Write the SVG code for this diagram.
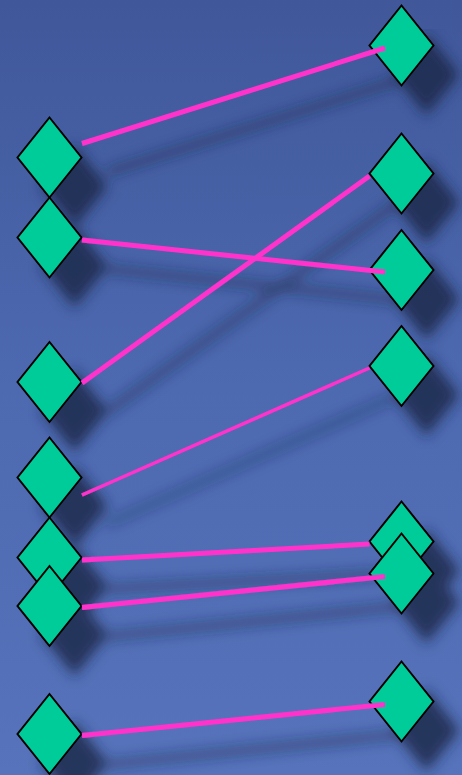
<svg xmlns="http://www.w3.org/2000/svg" xmlns:xlink="http://www.w3.org/1999/xlink" width="462" height="775" viewBox="0 0 462 775">
<defs>
<linearGradient id="bg" x1="0" y1="0" x2="0" y2="1">
<stop offset="0" stop-color="#40589a"/>
<stop offset="0.5" stop-color="#4d69b0"/>
<stop offset="1" stop-color="#5673bb"/>
</linearGradient>
<filter id="shadow" filterUnits="userSpaceOnUse" x="0" y="0" width="462" height="775">
<feGaussianBlur in="SourceAlpha" stdDeviation="6.5" result="b"/>
<feOffset in="b" dx="25" dy="29" result="o"/>
<feFlood flood-color="#1a2545" flood-opacity="0.8"/>
<feComposite in2="o" operator="in" result="s"/>
<feMerge><feMergeNode in="s"/><feMergeNode in="SourceGraphic"/></feMerge>
</filter>
<polygon id="dia" points="0,-40 32,0 0,40 -32,0"/>
</defs>
<style>
.node use{fill:#00cc99;stroke:#000;stroke-width:2;stroke-linejoin:miter}
.edge{stroke:#ff33cc;stroke-width:5;fill:none}
.thin{stroke-width:3.5}
</style>
<rect width="462" height="775" fill="url(#bg)"/>
<g filter="url(#shadow)">
<g id="n-l1" class="node"><use xlink:href="#dia" x="49.5" y="157.5"/></g>
<g id="n-l2" class="node"><use xlink:href="#dia" x="49.5" y="237.5"/></g>
<g id="n-l3" class="node"><use xlink:href="#dia" x="49.5" y="382"/></g>
<g id="n-l4" class="node"><use xlink:href="#dia" x="49.5" y="477.5"/></g>
<g id="n-l5" class="node"><use xlink:href="#dia" x="49.5" y="557.5"/></g>
<g id="n-l6" class="node"><use xlink:href="#dia" x="49.5" y="606"/></g>
<g id="n-l7" class="node"><use xlink:href="#dia" x="49.5" y="734"/></g>
<g id="n-r1" class="node"><use xlink:href="#dia" x="401.5" y="45.5"/></g>
<g id="n-r2" class="node"><use xlink:href="#dia" x="401.5" y="173.5"/></g>
<g id="n-r3" class="node"><use xlink:href="#dia" x="401.5" y="270"/></g>
<g id="n-r4" class="node"><use xlink:href="#dia" x="401.5" y="366"/></g>
<g id="n-r5" class="node"><use xlink:href="#dia" x="401.5" y="541.5"/></g>
<g id="n-r6" class="node"><use xlink:href="#dia" x="401.5" y="573.5"/></g>
<g id="n-r7" class="node"><use xlink:href="#dia" x="401.5" y="701.5"/></g>
<g id="connectors">
<line class="edge" x1="82" y1="143.5" x2="385" y2="48"/>
<line class="edge" x1="82" y1="240" x2="385" y2="272"/>
<line class="edge" x1="82" y1="383" x2="369.5" y2="176"/>
<line class="edge thin" x1="82" y1="495" x2="369.5" y2="368"/>
<line class="edge" x1="82" y1="560" x2="369.5" y2="544"/>
<line class="edge" x1="82" y1="607.5" x2="385" y2="576.5"/>
<line class="edge" x1="82" y1="735.5" x2="385" y2="704.5"/>
</g>
</g>
</svg>
